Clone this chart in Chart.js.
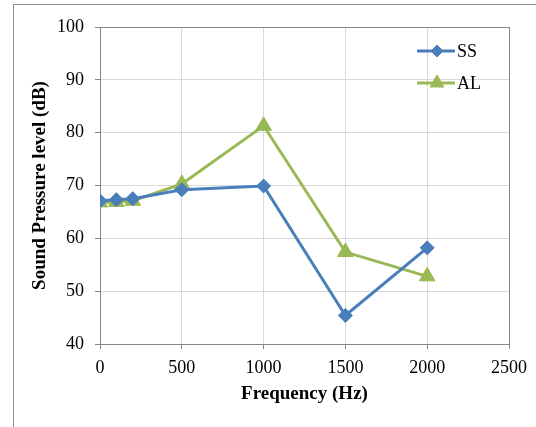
<!DOCTYPE html>
<html lang="en">
<head>
    <meta charset="UTF-8">
    <title>Sound Pressure level vs Frequency</title>
    <script src="https://cdn.jsdelivr.net/npm/chart.js"></script>
    <style>
        body {
            margin: 0;
            background-color: #fff;
            overflow: hidden;
        }
        .frame {
            position: absolute;
            left: 13px;
            top: 4px;
            width: 600px;
            height: 500px;
            border: 1px solid #8c8c8c;
        }
        .chart-container {
            position: absolute;
            left: 0;
            top: 0;
            width: 536px;
            height: 427px;
        }
    </style>
</head>
<body>
    <div class="frame"></div>
    <div class="chart-container">
        <canvas id="splChart"></canvas>
    </div>

    <script>
        // Données
        const frequencies = [0, 100, 200, 500, 1000, 1500, 2000];
        const ssValues = [67.1, 67.3, 67.5, 69.2, 69.9, 45.4, 58.2];
        const alValues = [66.8, 66.9, 67.1, 70.3, 81.3, 57.4, 52.8];
        const xTicks = [0, 500, 1000, 1500, 2000, 2500];
        const yTicks = [40, 50, 60, 70, 80, 90, 100];

        const serif = '"Liberation Serif", "Times New Roman", serif';
        const gridGrey = '#d9d9d9';
        const axisGrey = '#868686';

        const toPoints = vals => frequencies.map((f, i) => ({ x: f, y: vals[i] }));

        // Légende dessinée dans la zone du graphique, en haut à droite
        const insideLegend = {
            id: 'insideLegend',
            afterDraw(chart) {
                const { ctx, chartArea } = chart;
                chart.data.datasets.forEach((ds, i) => {
                    const y = chartArea.top + 24 + i * 32;
                    const x0 = chartArea.right - 92;
                    ctx.save();
                    ctx.strokeStyle = ds.borderColor;
                    ctx.lineWidth = ds.borderWidth;
                    ctx.beginPath();
                    ctx.moveTo(x0, y);
                    ctx.lineTo(x0 + 38, y);
                    ctx.stroke();
                    ctx.fillStyle = ds.pointBackgroundColor;
                    ctx.strokeStyle = ds.pointBorderColor;
                    ctx.lineWidth = 1;
                    Chart.helpers.drawPoint(ctx, {
                        pointStyle: ds.pointStyle,
                        radius: ds.pointRadius - 1,
                        borderWidth: 1
                    }, x0 + 20, y);
                    ctx.fillStyle = '#000';
                    ctx.font = '18px ' + serif;
                    ctx.textBaseline = 'middle';
                    ctx.textAlign = 'left';
                    ctx.fillText(ds.label, x0 + 40, y + 1);
                    ctx.restore();
                });
            }
        };

        const ctx = document.getElementById('splChart').getContext('2d');
        new Chart(ctx, {
            type: 'scatter',
            data: {
                datasets: [{
                    label: 'SS',
                    data: toPoints(ssValues),
                    showLine: true,
                    borderColor: '#4a7ebb',
                    backgroundColor: '#4a7ebb',
                    borderWidth: 3,
                    pointStyle: 'rectRot',
                    pointRadius: 7,
                    pointBackgroundColor: '#4a7ebb',
                    pointBorderColor: '#4a7ebb',
                    pointBorderWidth: 1
                }, {
                    label: 'AL',
                    data: toPoints(alValues),
                    showLine: true,
                    borderColor: '#98b954',
                    backgroundColor: '#98b954',
                    borderWidth: 3,
                    pointStyle: 'triangle',
                    pointRadius: 9,
                    pointBackgroundColor: '#98b954',
                    pointBorderColor: '#98b954',
                    pointBorderWidth: 1
                }]
            },
            options: {
                responsive: true,
                maintainAspectRatio: false,
                animation: false,
                layout: {
                    padding: { left: 0, right: 27, top: 27, bottom: 0 }
                },
                scales: {
                    x: {
                        type: 'linear',
                        min: xTicks[0],
                        max: xTicks[xTicks.length - 1],
                        afterBuildTicks: scale => {
                            scale.ticks = xTicks.map(v => ({ value: v }));
                        },
                        afterFit: scale => { scale.height = 83; },
                        ticks: {
                            color: '#000',
                            padding: 8,
                            font: { family: serif, size: 18 },
                            callback: v => String(v)
                        },
                        grid: {
                            color: c => c.tick && c.tick.value === 2500 ? axisGrey : gridGrey,
                            tickColor: axisGrey,
                            tickLength: 5
                        },
                        border: { color: axisGrey, width: 1 },
                        title: {
                            display: true,
                            text: 'Frequency (Hz)',
                            color: '#000',
                            font: { family: serif, size: 19, weight: 'bold' },
                            padding: { top: 0, bottom: 22 }
                        }
                    },
                    y: {
                        type: 'linear',
                        min: yTicks[0],
                        max: yTicks[yTicks.length - 1],
                        afterBuildTicks: scale => {
                            scale.ticks = yTicks.map(v => ({ value: v }));
                        },
                        afterFit: scale => { scale.width = 100; },
                        ticks: {
                            color: '#000',
                            padding: 11,
                            font: { family: serif, size: 18 },
                            callback: v => String(v)
                        },
                        grid: {
                            color: c => c.tick && c.tick.value === 100 ? axisGrey : gridGrey,
                            tickColor: axisGrey,
                            tickLength: 5
                        },
                        border: { color: axisGrey, width: 1 },
                        title: {
                            display: true,
                            text: 'Sound Pressure level (dB)',
                            color: '#000',
                            font: { family: serif, size: 19, weight: 'bold' },
                            padding: { top: 29, bottom: 0 }
                        }
                    }
                },
                plugins: {
                    legend: { display: false },
                    tooltip: { enabled: false }
                }
            },
            plugins: [insideLegend]
        });
    </script>
</body>
</html>
